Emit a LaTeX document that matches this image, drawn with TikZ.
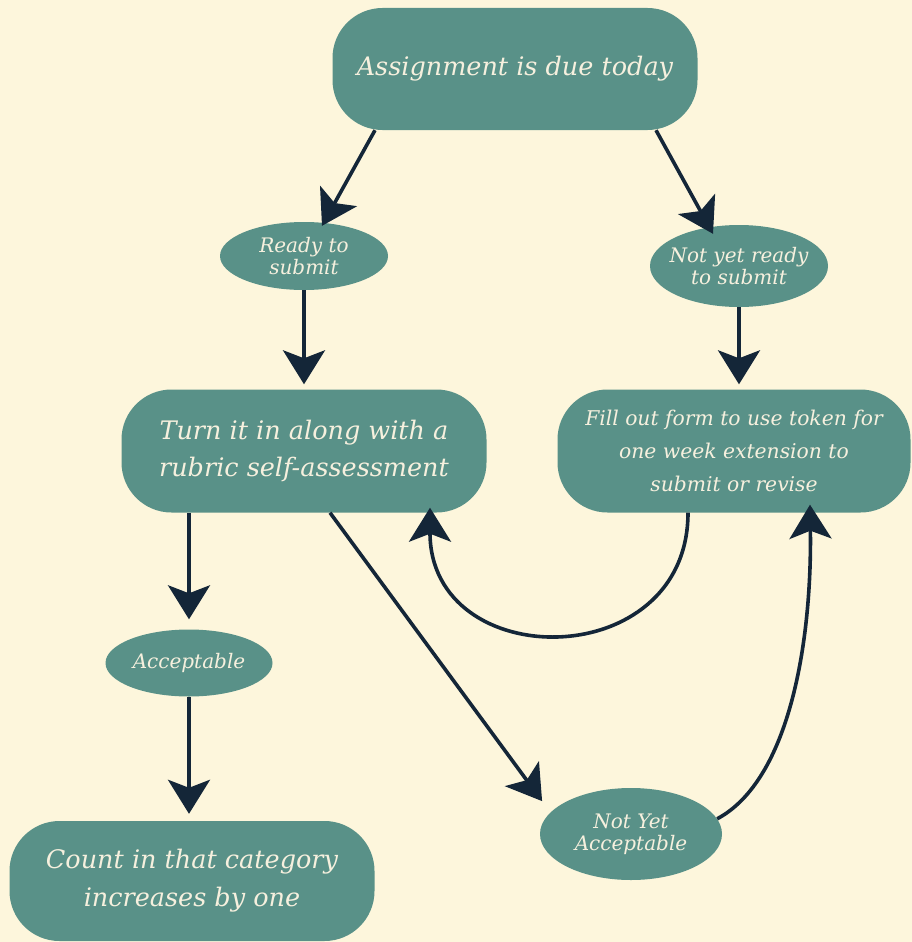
\documentclass[tikz,border=0pt]{standalone}
\usepackage{fontspec}
\setmainfont{DejaVu Serif}
\usetikzlibrary{arrows.meta,shapes.geometric}
\definecolor{bg}{RGB}{253,246,220}
\definecolor{boxc}{RGB}{89,145,136}
\definecolor{txt}{RGB}{246,240,222}
\definecolor{arr}{RGB}{20,38,56}
\begin{document}
\begin{tikzpicture}[x=1pt,y=-1pt,
  rbox/.style={draw=none,fill=boxc,rounded corners=50pt,text=txt,align=center,font=\itshape,inner sep=0pt},
  ell/.style={ellipse,draw=none,fill=boxc,text=txt,align=center,inner sep=0pt},
  conn/.style={draw=arr,line width=3.6pt,-{Stealth[length=34pt,width=42pt,inset=8pt]}}]
\fill[bg] (0,0) rectangle (912,942);
\useasboundingbox (0,0) rectangle (912,942);
\node[rbox,minimum width=365pt,minimum height=122pt,font=\itshape\fontsize{25.5}{30}\selectfont] (A) at (515,69) {Assignment is due today};
\node[ell,minimum width=168pt,minimum height=68pt,font=\itshape\fontsize{20}{22}\selectfont] (ready) at (304,256) {Ready to\\submit};
\node[ell,minimum width=178pt,minimum height=82pt,inner xsep=-24pt,font=\itshape\fontsize{20}{22}\selectfont] (notyet) at (739,266) {Not yet ready\\to submit};
\node[rbox,minimum width=365pt,minimum height=123pt,font=\itshape\fontsize{25.5}{37}\selectfont] (turn) at (304,451) {Turn it in along with a\\rubric self-assessment};
\node[rbox,minimum width=353pt,minimum height=123pt,font=\itshape\fontsize{20.3}{33}\selectfont] (fill) at (734,451) {Fill out form to use token for\\one week extension to\\submit or revise};
\node[ell,minimum width=167pt,minimum height=67pt,font=\itshape\fontsize{20}{22}\selectfont] (accept) at (189,663) {Acceptable};
\node[rbox,minimum width=365pt,minimum height=120pt,font=\itshape\fontsize{25.5}{38}\selectfont] (count) at (192,881) {Count in that category\\increases by one};
\node[ell,minimum width=182pt,minimum height=92pt,inner xsep=-6pt,font=\itshape\fontsize{20}{22}\selectfont] (nya) at (631,834) {Not Yet\\Acceptable};
\draw[conn] ([xshift=-140pt]A.south) -- ([xshift=18pt,yshift=-4pt]ready.north);
\draw[conn] ([xshift=141pt]A.south) -- ([xshift=-26pt,yshift=-9pt]notyet.north);
\draw[conn,shorten >=5pt] (ready.south) -- (turn.north);
\draw[conn,shorten >=5pt] (notyet.south) -- (notyet.south |- fill.north);
\draw[conn,shorten >=10pt] ([xshift=-115pt]turn.south) -- (accept.north);
\draw[conn,shorten >=7pt] (accept.south) -- (accept.south |- count.north);
\draw[conn,shorten >=14pt] ([xshift=26pt]turn.south) -- (nya.165);
\draw[conn] ([xshift=-46pt]fill.south) .. controls (688,675) and (430,675) .. ([xshift=126pt,yshift=5pt]turn.south);
\draw[conn] (nya.10) .. controls (790,780) and (812,640) .. ([xshift=76pt,yshift=8pt]fill.south);
\end{tikzpicture}
\end{document}
